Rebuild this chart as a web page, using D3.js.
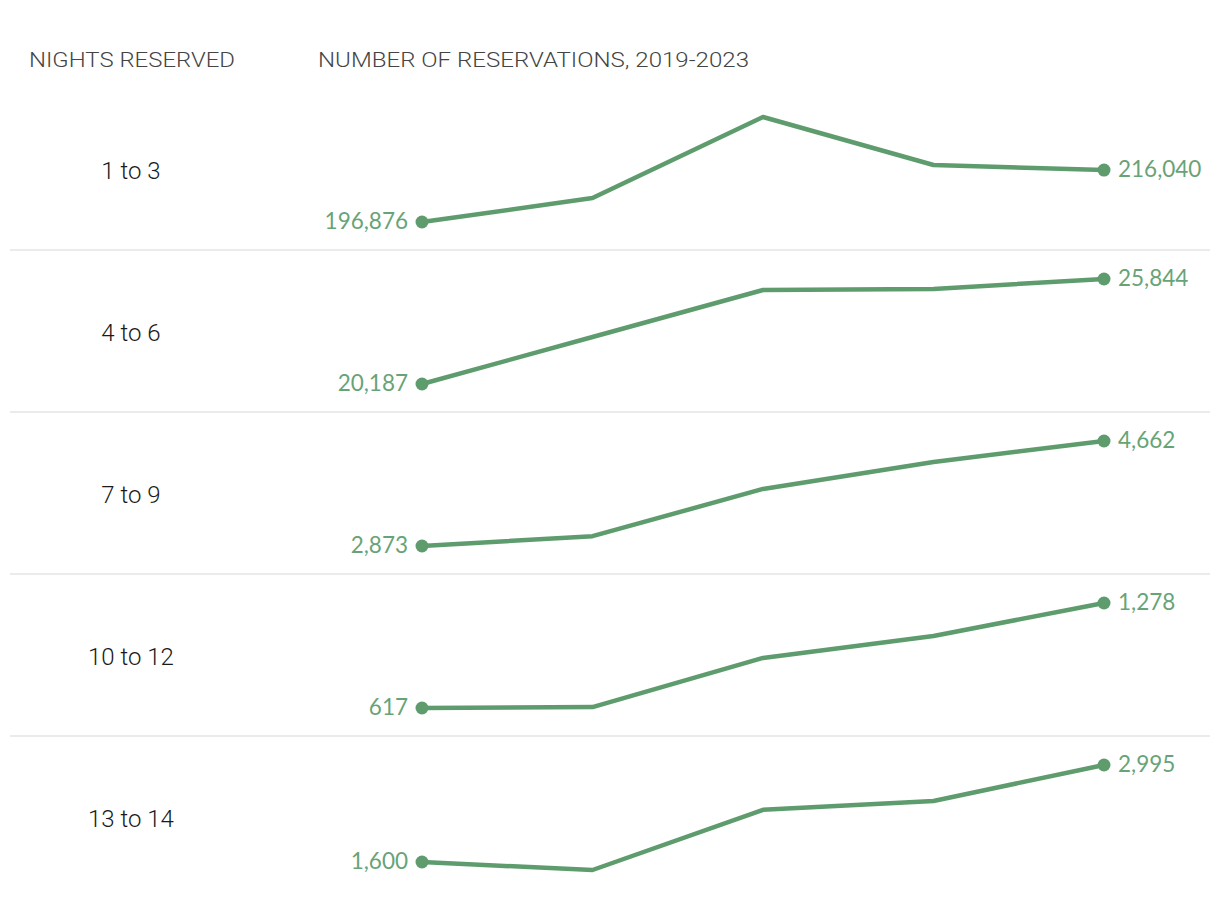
<!DOCTYPE html>
<html><head><meta charset="utf-8">
<script src="https://cdn.jsdelivr.net/npm/d3@7"></script>
<style>body{margin:0;background:#fff}</style>
</head><body>
<script>
const years = [2019, 2020, 2021, 2022, 2023];
const categories = ["1 to 3", "4 to 6", "7 to 9", "10 to 12", "13 to 14"];
const series1to3 = [196876, 205700, 235600, 217900, 216040];
const series4to6 = [20187, 22720, 25250, 25310, 25844];
const series7to9 = [2873, 3040, 3845, 4305, 4662];
const series10to12 = [617, 623, 932, 1070, 1278];
const series13to14 = [1600, 1485, 2350, 2478, 2995];
const seriesValues = [series1to3, series4to6, series7to9, series10to12, series13to14];
const headerLeft = "NIGHTS RESERVED";
const headerRight = "NUMBER OF RESERVATIONS, 2019-2023";

const W = 1220, H = 912;
const green = "#5e9c6e";
const svg = d3.select("body").append("svg").attr("width", W).attr("height", H);

svg.append("text").attr("x", 29).attr("y", 67).text(headerLeft)
  .attr("font-family", "Roboto, sans-serif").attr("font-weight", 300).attr("font-size", 21).attr("fill", "#444")
  .attr("textLength", 206).attr("lengthAdjust", "spacingAndGlyphs");
svg.append("text").attr("x", 318).attr("y", 67).text(headerRight)
  .attr("font-family", "Roboto, sans-serif").attr("font-weight", 300).attr("font-size", 21).attr("fill", "#444")
  .attr("textLength", 431).attr("lengthAdjust", "spacingAndGlyphs");

const x = d3.scalePoint().domain(years).range([422, 1104]);
const band = d3.scaleBand().domain(categories).range([88, 898]);
const fmt = d3.format(",");

categories.forEach((cat, i) => {
  const top = band(cat), bh = band.bandwidth();
  const vals = seriesValues[i];
  const y = d3.scaleLinear().domain(d3.extent(vals)).range([top + bh - 28, top + 29]);
  const g = svg.append("g");
  if (i > 0) {
    g.append("line").attr("x1", 10).attr("x2", 1210).attr("y1", top).attr("y2", top)
      .attr("stroke", "#ebebeb").attr("stroke-width", 2);
  }
  g.append("text").attr("x", 131).attr("y", top + bh / 2 + 10).attr("text-anchor", "middle")
    .attr("font-family", "Roboto, sans-serif").attr("font-weight", 300).attr("font-size", 24).attr("fill", "#1a1a1a")
    .text(cat);
  const data = years.map((yr, j) => ({yr, v: vals[j]}));
  g.append("path").datum(data)
    .attr("d", d3.line().x(d => x(d.yr)).y(d => y(d.v)))
    .attr("fill", "none").attr("stroke", green).attr("stroke-width", 4.5)
    .attr("stroke-linejoin", "round");
  [data[0], data[data.length - 1]].forEach((d, k) => {
    g.append("circle").attr("cx", x(d.yr)).attr("cy", y(d.v)).attr("r", 6.5).attr("fill", green);
    g.append("text")
      .attr("x", k === 0 ? x(d.yr) - 14 : x(d.yr) + 14)
      .attr("y", y(d.v) + 7)
      .attr("text-anchor", k === 0 ? "end" : "start")
      .attr("font-family", "Lato, sans-serif").attr("font-weight", 400).attr("font-size", 22.5).attr("fill", "#68a377")
      .text(fmt(d.v));
  });
});
</script>
</body></html>
